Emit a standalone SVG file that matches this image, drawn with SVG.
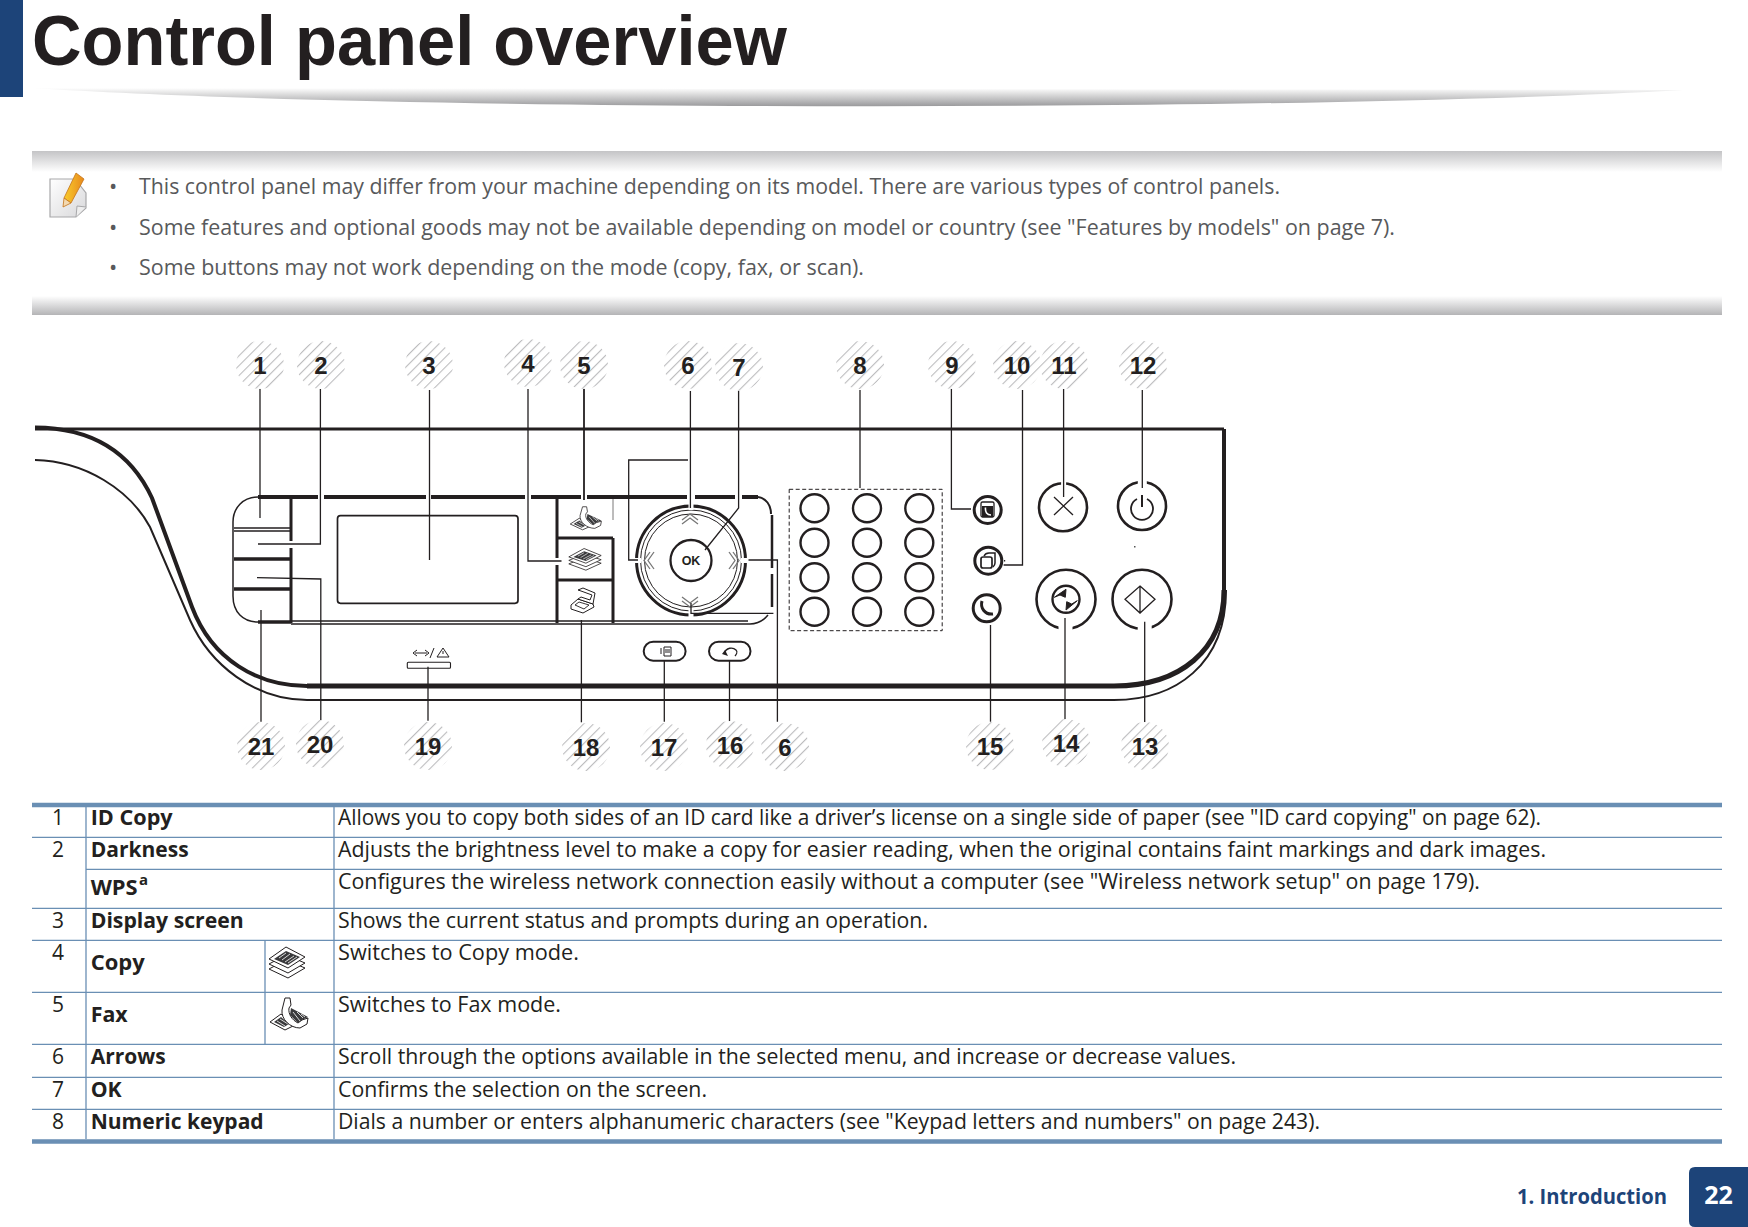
<svg xmlns="http://www.w3.org/2000/svg" width="1748" height="1227" viewBox="0 0 1748 1227">
<defs>
<linearGradient id="sw" x1="0" y1="0" x2="0" y2="1"><stop offset="0" stop-color="#fff"/><stop offset="1" stop-color="#9a9a9c"/></linearGradient>
<linearGradient id="bandT" x1="0" y1="0" x2="0" y2="1"><stop offset="0" stop-color="#c4c4c6"/><stop offset="1" stop-color="#fff"/></linearGradient>
<linearGradient id="bandB" x1="0" y1="0" x2="0" y2="1"><stop offset="0" stop-color="#fff"/><stop offset="1" stop-color="#b4b4b6"/></linearGradient>
<linearGradient id="pg" x1="0" y1="0" x2="1" y2="1"><stop offset="0" stop-color="#fff"/><stop offset="1" stop-color="#d8d8da"/></linearGradient>
<linearGradient id="pen" x1="0" y1="0" x2="1" y2="0"><stop offset="0" stop-color="#f9cc2c"/><stop offset="1" stop-color="#e8891c"/></linearGradient>
<pattern id="hatch" width="7" height="7" patternUnits="userSpaceOnUse" patternTransform="rotate(-45)"><rect width="7" height="7" fill="#fff"/><rect width="7" height="1.1" fill="#bcbcbe"/></pattern>
<g id="ico-copy">
<path class="ic" d="M-18 7 L-1 -2 L18 6 L1 16Z"/>
<path class="ic" d="M-18 2 L-1 -7 L18 1 L1 11Z"/>
<path class="ic" d="M-18 -3 L-1 -15 L18 -5 L1 6Z"/>
<path d="M-13 -3 L-1 -11 L13 -5 L1 3Z" fill="#3a3a3c"/>
<path d="M-8 -4 L-1 -9 M-5 -2 L3 -8 M-2 0 L7 -6 M1 1 L10 -5" stroke="#fff" stroke-width=".8" fill="none"/>
</g>
<g id="ico-fax">
<path class="ic" d="M-18 7 L-7 -1 L-2 3 L7 10 L-3 15Z"/>
<path d="M-14 7 L-7 2 L1 9 L-4 12Z" fill="#3a3a3c"/>
<path d="M-11 6 L-3 11 M-8 4 L0 9" stroke="#fff" stroke-width=".8" fill="none"/>
<path class="ic" d="M-3 -17 L2 -17 L3 -10 L1 -7 C0 -1 4 5 10 8 L14 5 L20 3 L19 9 L12 13 C2 13 -7 4 -6 -5Z"/>
<path d="M3 -7 L20 2 L14 5 L10 8 L2 0Z" fill="#3a3a3c"/>
<path d="M5 -3 L12 6 M9 -3 L15 3 M13 -1 L17 2" stroke="#fff" stroke-width=".8" fill="none"/>
</g>
<g id="ico-scan">
<path class="ic" d="M-12 4 L-5 -2 L10 3 L11 6 L0 12 L-12 8Z"/>
<path class="ic" d="M-5 -11 L0 -13 L12 -8 L10 3 L-5 -2 L-2 -4 L7 -1 L9 -6 L-2 -10Z"/>
<path d="M-8 4 L-4 1 L6 4 L1 8Z" fill="none" stroke="#231f20" stroke-width=".9"/>
</g>
</defs>
<style>
.ic{fill:#fff;stroke:#231f20;stroke-width:1}
.title{font:700 71px "Liberation Sans",Arial,sans-serif;fill:#231f20}
.note{font:400 22px "Open Sans","Liberation Sans",sans-serif;fill:#58595b}
.tb{font:400 21px "Open Sans","Liberation Sans",sans-serif;fill:#231f20}
.tl{font:700 21px "Open Sans","Liberation Sans",sans-serif;fill:#231f20}
.num{font:700 24px "Liberation Sans",Arial,sans-serif;fill:#231f20;text-anchor:middle}
.hc{fill:url(#hatch)}
.lead{fill:none;stroke:#231f20;stroke-width:1.3}
.rule{stroke:#6a8fb4;stroke-width:1.3;fill:none}
.thick{stroke:#6a8fb4;stroke-width:4.5;fill:none}
.k{fill:none;stroke:#231f20}
.key{fill:#fff;stroke:#231f20;stroke-width:2.4}
</style>
<rect width="1748" height="1227" fill="#fff"/>
<g id="header">
<rect x="0" y="0" width="23" height="97" fill="#1d4479"/>
<text class="title" x="32" y="65" textLength="755" lengthAdjust="spacingAndGlyphs">Control panel overview</text>
<path d="M33 88 L1683 90 C1300 112 400 112 33 88Z" fill="url(#sw)"/>
</g>
<g id="note">
<rect x="32" y="151" width="1690" height="21" fill="url(#bandT)"/>
<rect x="32" y="296" width="1690" height="19" fill="url(#bandB)"/>
<path d="M50 179 L75 179 L86 193 L86 208 L76 217 L50 217Z" fill="url(#pg)" stroke="#a8a8aa" stroke-width="1.2"/>
<path d="M76 217 L77 206 L86 207" fill="#eee" stroke="#a8a8aa" stroke-width="1"/>
<path d="M64 198 L76 173 L84 179 L71 203 L64 198Z" fill="url(#pen)" stroke="#c4741a" stroke-width=".8"/>
<path d="M64 198 L63 207 L71 203Z" fill="#f3d9b0" stroke="#c4741a" stroke-width=".8"/>
<text class="note" x="109" y="194">•</text>
<text class="note" x="139" y="194" textLength="1141" lengthAdjust="spacingAndGlyphs">This control panel may differ from your machine depending on its model. There are various types of control panels.</text>
<text class="note" x="109" y="235">•</text>
<text class="note" x="139" y="235" textLength="1256" lengthAdjust="spacingAndGlyphs">Some features and optional goods may not be available depending on model or country (see "Features by models" on page 7).</text>
<text class="note" x="109" y="275">•</text>
<text class="note" x="139" y="275" textLength="725" lengthAdjust="spacingAndGlyphs">Some buttons may not work depending on the mode (copy, fax, or scan).</text>
</g>
<g id="panel">
<path class="k" stroke-width="3" d="M35 429 L1224 429"/>
<path class="k" stroke-width="4" d="M1224 429 L1224 590"/>
<path class="k" stroke-width="4" d="M35 427.500 C95 428 132 455 152 498 L192 607 C212 660 258 686 307 686"/>
<path class="k" stroke-width="5" d="M307 686 L1114 686 C1180 686 1224 650 1224 590"/>
<path class="k" stroke-width="2" d="M35 460 C85 461 130 490 150 527 L190 620 C210 665 255 700 307 700 L1114 700 C1175 700 1226 665 1226 590"/>
<g id="bezel">
<path class="k" stroke-width="1.500" d="M258 497 C243 497 233 508 233 522 L233 596 C233 612 243 622 258 622"/>
<path class="k" stroke-width="4" d="M258 497 H318 M324 497 H426 M431 497 H525 M531 497 H581 M587 497 H687 M695 497 H735 M742 497 H758"/>
<path class="k" stroke-width="2" d="M758 497 C766 498 771 505 771 514"/>
<path class="k" stroke-width="2.500" d="M772 515 V568 M772 574 V607"/>
<path class="k" stroke-width="1.500" d="M291 621 H748 M291 624 H750 C758 624 764 620 768 615"/>
<path class="k" stroke-width="3.500" d="M258 622 H291"/>
<path class="k" stroke-width="3" d="M291 497 V541 M291 548 V623"/>
<path class="k" stroke-width="1.500" d="M234 528 H291 M234 531 H291"/>
<path class="k" stroke-width="3.500" d="M234 559 H291 M234 589 H291"/>
<path class="k" stroke-width="3" d="M557 497 V558 M557 565 V623 M557 538 H613 M557 580 H613 M613 538 V623"/>
<path class="k" stroke-width="1" d="M613 497 V520" stroke-opacity=".6"/>
</g>
<rect id="display" x="337.500" y="515.700" width="180.500" height="87.600" rx="3" class="k" stroke-width="1.700"/>
<g id="mode-buttons">
<use href="#ico-fax" transform="translate(585 519) scale(.82 .72)"/>
<use href="#ico-copy" transform="translate(585 559) scale(.9 .7)"/>
<use href="#ico-scan" transform="translate(583 601)"/>
</g>
<g id="nav">
<circle cx="691" cy="560.500" r="54.500" class="k" stroke-width="3"/>
<circle cx="691" cy="560.500" r="50.500" class="k" stroke-width="1"/>
<circle cx="691" cy="560.500" r="46.500" class="k" stroke-width="1"/>
<path stroke="#fff" stroke-width="5" fill="none" d="M691 502 V510 M633 560.500 H641 M741 560.500 H749 M691 610 V618"/>
<circle cx="691" cy="560.500" r="20.500" fill="#fff" stroke="#231f20" stroke-width="2.300"/>
<text x="691" y="565" font-family="Liberation Sans, Arial, sans-serif" font-weight="700" font-size="12.500" text-anchor="middle" fill="#231f20">OK</text>
<path stroke="#777" stroke-width="1.300" fill="none" d="M682 524 L690 518 L698 524 M682 520 L690 514 L698 520 M654 552 L648 560.500 L654 569 M650 552 L644 560.500 L650 569 M729 552 L735 560.500 L729 569 M733 552 L739 560.500 L733 569 M682 597 L690 603 L698 597 M682 601 L690 607 L698 601"/>
</g>
<g id="keypad">
<rect x="789.200" y="489.300" width="153" height="141.400" fill="none" stroke="#231f20" stroke-width="1" stroke-dasharray="4 2.500"/>
<circle class="key" cx="814.500" cy="508.300" r="14"/><circle class="key" cx="867" cy="508.300" r="14"/><circle class="key" cx="919.300" cy="508.300" r="14"/>
<circle class="key" cx="814.500" cy="542.700" r="14"/><circle class="key" cx="867" cy="542.700" r="14"/><circle class="key" cx="919.300" cy="542.700" r="14"/>
<circle class="key" cx="814.500" cy="577.300" r="14"/><circle class="key" cx="867" cy="577.300" r="14"/><circle class="key" cx="919.300" cy="577.300" r="14"/>
<circle class="key" cx="814.500" cy="611.700" r="14"/><circle class="key" cx="867" cy="611.700" r="14"/><circle class="key" cx="919.300" cy="611.700" r="14"/>
</g>
<g id="side-buttons">
<circle cx="987.700" cy="510" r="13.500" class="k" stroke-width="3"/>
<rect x="981" y="502" width="13" height="15" rx="1.500" fill="none" stroke="#231f20" stroke-width="1.300"/>
<rect x="982" y="506" width="11" height="11" fill="#231f20"/>
<path d="M985.500 507.500 C985 512 987 515 991 515" fill="none" stroke="#fff" stroke-width="1.600"/>
<circle cx="988.300" cy="560.700" r="13.500" class="k" stroke-width="3"/>
<rect x="981" y="557" width="11" height="11" rx="2" fill="none" stroke="#231f20" stroke-width="1.700"/>
<path d="M984 556 C985 554 987 553 989 553 H995 V563 C995 565 994 566 993 567" fill="none" stroke="#231f20" stroke-width="1.500"/>
<path d="M1004 560.700 h1.200" stroke="#231f20" stroke-width="1.500"/>
<circle cx="986.700" cy="608.300" r="13.500" class="k" stroke-width="3"/>
<path d="M982 601 C980 608 985 615 993 614" fill="none" stroke="#231f20" stroke-width="3"/>
</g>
<g id="stop-btn">
<circle cx="1063" cy="507.300" r="24" class="k" stroke-width="2.600"/>
<path d="M1054 497 L1073 515 M1073 497 L1054 515" class="k" stroke-width="1.300"/>
</g>
<g id="power-btn">
<circle cx="1142" cy="506" r="24" class="k" stroke-width="2.600"/>
<path d="M1137 499 A11 11 0 1 0 1147 499" class="k" stroke-width="1.800"/>
<path d="M1142 495 V507" class="k" stroke-width="2"/>
<path d="M1134 546.700 h1.500" stroke="#555" stroke-width="1.500"/>
</g>
<g id="eco-btn">
<circle cx="1066" cy="599.300" r="29.500" class="k" stroke-width="2.600"/>
<circle cx="1066" cy="599.300" r="13.500" class="k" stroke-width="2.400"/>
<path d="M1054.300 597.300 L1066 589.300 L1065.300 597.300 L1060 595Z M1077.300 600.700 L1066 610 L1066.700 601.700 L1071.700 604Z" fill="#231f20" stroke="#231f20" stroke-width="1"/>
</g>
<g id="start-btn">
<circle cx="1142" cy="599.300" r="29.500" class="k" stroke-width="2.600"/>
<path d="M1140 586 L1155 599.300 L1140 613 L1125 599.300Z M1140 586 V613" class="k" stroke-width="1.300"/>
</g>
<path stroke="#fff" fill="none" d="M1063.600 480 V486" stroke-width="5"/>
<path stroke="#fff" fill="none" d="M1142.300 478 V486" stroke-width="9"/>
<path stroke="#fff" fill="none" d="M1065.500 625 V633 M1144.700 625 V633" stroke-width="14"/>
<g id="pills">
<rect x="643.700" y="641.700" width="41.900" height="19" rx="9.500" class="k" stroke-width="2"/>
<path d="M661 648 V654 M664 647 H671 V656 H664Z M665 650 H670 M665 652 H670" class="k" stroke-width="1"/>
<rect x="709" y="641.700" width="41.500" height="19" rx="9.500" class="k" stroke-width="2"/>
<path d="M724 654 C726 647 733 647 736 650 C738 652 736 655 735 656" class="k" stroke-width="1.300"/>
<path d="M722 654 L728 656 L725 650Z" fill="#231f20"/>
</g>
<g id="status">
<rect x="407.300" y="662.300" width="43.200" height="6" rx="1" class="k" stroke-width="1.100"/>
<path d="M415 653 H427 M417 650 L413 653 L417 656 M425 650 L429 653 L425 656 M430 658 L434 648 M437 657 L443 648 L449 657Z M443 651 V654" class="k" stroke-width="1"/>
</g>
</g>
<g id="connectors">
<path class="lead" d="M260 388 V518"/>
<path class="lead" d="M320.400 389 V544 H258"/>
<path class="lead" d="M429.500 390 V560"/>
<path class="lead" d="M528 389 V561 H561.500"/>
<path class="lead" style="stroke-width:1.800" d="M584 388 V500"/>
<path class="lead" d="M690.400 391 V508"/>
<path class="lead" d="M688 460 H628.700 V560 H638"/>
<path class="lead" d="M738.600 391 V508 L705 550"/>
<path class="lead" d="M860 390 V488"/>
<path class="lead" d="M951.400 388 V509 H971"/>
<path class="lead" d="M1022.500 390 V565 H1003.600"/>
<path class="lead" d="M1063.600 389 V497"/>
<path class="lead" d="M1142.300 390 V488"/>
<path class="lead" d="M261 610 V721.700"/>
<path class="lead" d="M257 577.700 L320.800 579 V720.700"/>
<path class="lead" d="M428 666.700 V720.700"/>
<path class="lead" d="M581.400 620 V722.300"/>
<path class="lead" d="M664.300 660.700 V721.700"/>
<path class="lead" d="M729.500 660.700 V721.700"/>
<path class="lead" d="M748.500 560 H777.400 V721.700"/>
<path class="lead" d="M773.400 613.300 H691 V603"/>
<path class="lead" d="M990.500 625 V721.700"/>
<path class="lead" d="M1065 618 V720"/>
<path class="lead" d="M1144.700 621.700 V722.700"/>
</g>
<g id="callouts">
<g id="c1"><circle class="hc" cx="260" cy="365" r="24"/><text class="num" x="260" y="373.500">1</text></g>
<g id="c2"><circle class="hc" cx="321" cy="365" r="24"/><text class="num" x="321" y="373.500">2</text></g>
<g id="c3"><circle class="hc" cx="429" cy="365" r="24"/><text class="num" x="429" y="373.500">3</text></g>
<g id="c4"><circle class="hc" cx="528" cy="363" r="24"/><text class="num" x="528" y="371.500">4</text></g>
<g id="c5"><circle class="hc" cx="584" cy="365" r="24"/><text class="num" x="584" y="373.500">5</text></g>
<g id="c6a"><circle class="hc" cx="688" cy="365" r="24"/><text class="num" x="688" y="373.500">6</text></g>
<g id="c7"><circle class="hc" cx="739" cy="367" r="24"/><text class="num" x="739" y="375.500">7</text></g>
<g id="c8"><circle class="hc" cx="860" cy="365" r="24"/><text class="num" x="860" y="373.500">8</text></g>
<g id="c9"><circle class="hc" cx="952" cy="365" r="24"/><text class="num" x="952" y="373.500">9</text></g>
<g id="c10"><circle class="hc" cx="1017" cy="365" r="24"/><text class="num" x="1017" y="373.500">10</text></g>
<g id="c11"><circle class="hc" cx="1064" cy="365" r="24"/><text class="num" x="1064" y="373.500">11</text></g>
<g id="c12"><circle class="hc" cx="1143" cy="365" r="24"/><text class="num" x="1143" y="373.500">12</text></g>
<g id="c21"><circle class="hc" cx="261" cy="746" r="24"/><text class="num" x="261" y="754.500">21</text></g>
<g id="c20"><circle class="hc" cx="320" cy="744" r="24"/><text class="num" x="320" y="752.500">20</text></g>
<g id="c19"><circle class="hc" cx="428" cy="746" r="24"/><text class="num" x="428" y="754.500">19</text></g>
<g id="c18"><circle class="hc" cx="586" cy="747" r="24"/><text class="num" x="586" y="755.500">18</text></g>
<g id="c17"><circle class="hc" cx="664" cy="747" r="24"/><text class="num" x="664" y="755.500">17</text></g>
<g id="c16"><circle class="hc" cx="730" cy="745" r="24"/><text class="num" x="730" y="753.500">16</text></g>
<g id="c6b"><circle class="hc" cx="785" cy="747" r="24"/><text class="num" x="785" y="755.500">6</text></g>
<g id="c15"><circle class="hc" cx="990" cy="746" r="24"/><text class="num" x="990" y="754.500">15</text></g>
<g id="c14"><circle class="hc" cx="1066" cy="743" r="24"/><text class="num" x="1066" y="751.500">14</text></g>
<g id="c13"><circle class="hc" cx="1145" cy="746" r="24"/><text class="num" x="1145" y="754.500">13</text></g>
</g>
<g id="table">
<path class="thick" d="M32 805 H1722 M32 1141.500 H1722"/>
<path class="rule" d="M32 837.300 H1722 M86 869.300 H1722 M32 908.300 H1722 M32 940.300 H1722 M32 992.300 H1722 M32 1044.300 H1722 M32 1077.300 H1722 M32 1109.300 H1722"/>
<path class="rule" d="M86 807 V1139 M334 807 V1139 M265 940.300 V1044.300"/>
<use href="#ico-copy" transform="translate(287 962)"/>
<use href="#ico-fax" transform="translate(288 1015)"/>
<g id="row1"><text class="tb" x="58" y="825" text-anchor="middle">1</text><text class="tl" x="90.700" y="825" textLength="82" lengthAdjust="spacingAndGlyphs">ID Copy</text><text class="tb" x="338" y="825" textLength="1203" lengthAdjust="spacingAndGlyphs">Allows you to copy both sides of an ID card like a driver’s license on a single side of paper (see "ID card copying" on page 62).</text></g>
<g id="row2"><text class="tb" x="58" y="857" text-anchor="middle">2</text><text class="tl" x="90.700" y="857" textLength="98" lengthAdjust="spacingAndGlyphs">Darkness</text><text class="tb" x="338" y="857" textLength="1208" lengthAdjust="spacingAndGlyphs">Adjusts the brightness level to make a copy for easier reading, when the original contains faint markings and dark images.</text></g>
<g id="row2b"><text class="tl" x="90.700" y="895" textLength="47" lengthAdjust="spacingAndGlyphs">WPS</text><text class="tl" x="139" y="885" style="font-size:15px">a</text><text class="tb" x="338" y="888.500" textLength="1142" lengthAdjust="spacingAndGlyphs">Configures the wireless network connection easily without a computer (see "Wireless network setup" on page 179).</text></g>
<g id="row3"><text class="tb" x="58" y="928" text-anchor="middle">3</text><text class="tl" x="90.700" y="928" textLength="153" lengthAdjust="spacingAndGlyphs">Display screen</text><text class="tb" x="338" y="928" textLength="590" lengthAdjust="spacingAndGlyphs">Shows the current status and prompts during an operation.</text></g>
<g id="row4"><text class="tb" x="58" y="960" text-anchor="middle">4</text><text class="tl" x="90.700" y="970" textLength="54" lengthAdjust="spacingAndGlyphs">Copy</text><text class="tb" x="338" y="960" textLength="241" lengthAdjust="spacingAndGlyphs">Switches to Copy mode.</text></g>
<g id="row5"><text class="tb" x="58" y="1012" text-anchor="middle">5</text><text class="tl" x="90.700" y="1022" textLength="37" lengthAdjust="spacingAndGlyphs">Fax</text><text class="tb" x="338" y="1012" textLength="223" lengthAdjust="spacingAndGlyphs">Switches to Fax mode.</text></g>
<g id="row6"><text class="tb" x="58" y="1064" text-anchor="middle">6</text><text class="tl" x="90.700" y="1064" textLength="75" lengthAdjust="spacingAndGlyphs">Arrows</text><text class="tb" x="338" y="1064" textLength="898" lengthAdjust="spacingAndGlyphs">Scroll through the options available in the selected menu, and increase or decrease values.</text></g>
<g id="row7"><text class="tb" x="58" y="1097" text-anchor="middle">7</text><text class="tl" x="90.700" y="1097" textLength="31" lengthAdjust="spacingAndGlyphs">OK</text><text class="tb" x="338" y="1097" textLength="369" lengthAdjust="spacingAndGlyphs">Confirms the selection on the screen.</text></g>
<g id="row8"><text class="tb" x="58" y="1129" text-anchor="middle">8</text><text class="tl" x="90.700" y="1129" textLength="173" lengthAdjust="spacingAndGlyphs">Numeric keypad</text><text class="tb" x="338" y="1129" textLength="982" lengthAdjust="spacingAndGlyphs">Dials a number or enters alphanumeric characters (see "Keypad letters and numbers" on page 243).</text></g>
</g>
<g id="footer">
<text x="1517" y="1204" font-family="Open Sans, Liberation Sans, sans-serif" font-weight="700" font-size="22" fill="#1d4479" textLength="150" lengthAdjust="spacingAndGlyphs">1. Introduction</text>
<path d="M1748 1167 H1695 Q1689 1167 1689 1173 V1221 Q1689 1227 1695 1227 H1748Z" fill="#1d4479"/>
<text x="1718.500" y="1204" font-family="Open Sans, Liberation Sans, sans-serif" font-weight="700" font-size="25" fill="#fff" text-anchor="middle">22</text>
</g>
</svg>
